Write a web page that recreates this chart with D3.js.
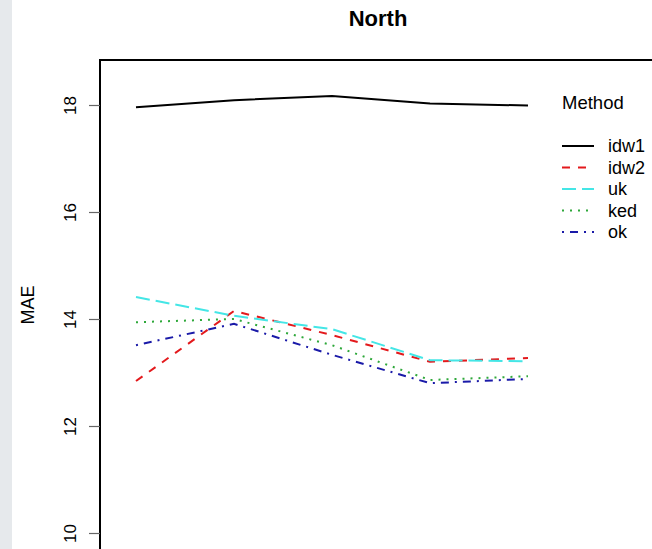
<!doctype html><html><head>
<style>
  body { margin: 0; background: #fff; }
  svg text { font-family: "Liberation Sans", Arial, sans-serif; }
</style>
</head><body><script src='https://d3js.org/d3.v7.min.js'></script>

<script>
  // data
  const steps = [1, 2, 3, 4, 5];
  const methods = ["idw1", "idw2", "uk", "ked", "ok"];
  const idw1 = [17.96, 18.09, 18.17, 18.03, 17.99];
  const idw2 = [12.84, 14.15, 13.70, 13.20, 13.27];
  const uk   = [14.41, 14.06, 13.81, 13.23, 13.21];
  const ked  = [13.94, 14.00, 13.51, 12.86, 12.93];
  const ok   = [13.51, 13.91, 13.33, 12.80, 12.88];
  const yTicks = [10, 12, 14, 16, 18];

  const series = [idw1, idw2, uk, ked, ok];
  const colors = ["#000000", "#e3191c", "#44e6e6", "#2ea83a", "#1a1aa8"];
  const dashes = [null, "8,8", "14,6", "2,6", "2,6,8,6"];

  const width = 652, height = 549;

  var svg = d3.select("body")
    .append("svg")
    .attr("width", width)
    .attr("height", height);

  // grey strip at the left edge
  svg.append("rect")
    .attr("x", 0).attr("y", 0)
    .attr("width", 12).attr("height", height)
    .attr("fill", "#e6e9ec");

  var x = d3.scaleLinear().domain([1, 5]).range([136, 528]);
  var y = d3.scaleLinear().domain([10, 18]).range([533, 105]);

  // plot box (right and bottom run off the page)
  svg.append("rect")
    .attr("x", 100).attr("y", 60)
    .attr("width", 700).attr("height", 700)
    .attr("fill", "none")
    .attr("stroke", "#000")
    .attr("stroke-width", 2);

  var yAxis = svg.append("g")
    .attr("transform", "translate(100,0)")
    .call(d3.axisLeft(y).tickValues(yTicks).tickSize(11).tickPadding(0));
  yAxis.select(".domain").remove();
  yAxis.selectAll(".tick line").attr("stroke", "#666").attr("stroke-width", 1.2);
  yAxis.selectAll(".tick text")
    .attr("transform", "translate(-30,0) rotate(-90)")
    .attr("x", 0).attr("dy", "0.35em")
    .attr("text-anchor", "middle")
    .attr("font-size", "17px")
    .attr("fill", "#000");

  var line = d3.line()
    .x(function(d, i) { return x(steps[i]); })
    .y(function(d) { return y(d); });

  svg.selectAll("path.series")
    .data(series)
    .enter()
    .append("path")
    .attr("class", "series")
    .attr("d", line)
    .attr("fill", "none")
    .attr("stroke", function(d, i) { return colors[i]; })
    .attr("stroke-width", 2)
    .attr("stroke-dasharray", function(d, i) { return dashes[i]; });

  // title and axis label
  svg.append("text")
    .attr("x", 378).attr("y", 26)
    .attr("text-anchor", "middle")
    .attr("font-size", "22px")
    .attr("font-weight", "bold")
    .text("North");

  svg.append("text")
    .attr("transform", "translate(34,305) rotate(-90)")
    .attr("text-anchor", "middle")
    .attr("font-size", "18px")
    .text("MAE");

  // legend
  var legend = svg.append("g").attr("transform", "translate(562,0)");
  legend.append("text")
    .attr("x", 0).attr("y", 109)
    .attr("font-size", "18.5px")
    .text("Method");

  var rows = legend.selectAll("g.row")
    .data(methods)
    .enter()
    .append("g")
    .attr("class", "row")
    .attr("transform", function(d, i) { return "translate(0," + (146 + i * 21.5) + ")"; });

  rows.append("line")
    .attr("x1", 0).attr("x2", 32)
    .attr("stroke", function(d, i) { return colors[i]; })
    .attr("stroke-width", 2)
    .attr("stroke-dasharray", function(d, i) { return dashes[i]; });

  rows.append("text")
    .attr("x", 46).attr("y", 6)
    .attr("font-size", "18px")
    .text(function(d) { return d; });
</script></body></html>
